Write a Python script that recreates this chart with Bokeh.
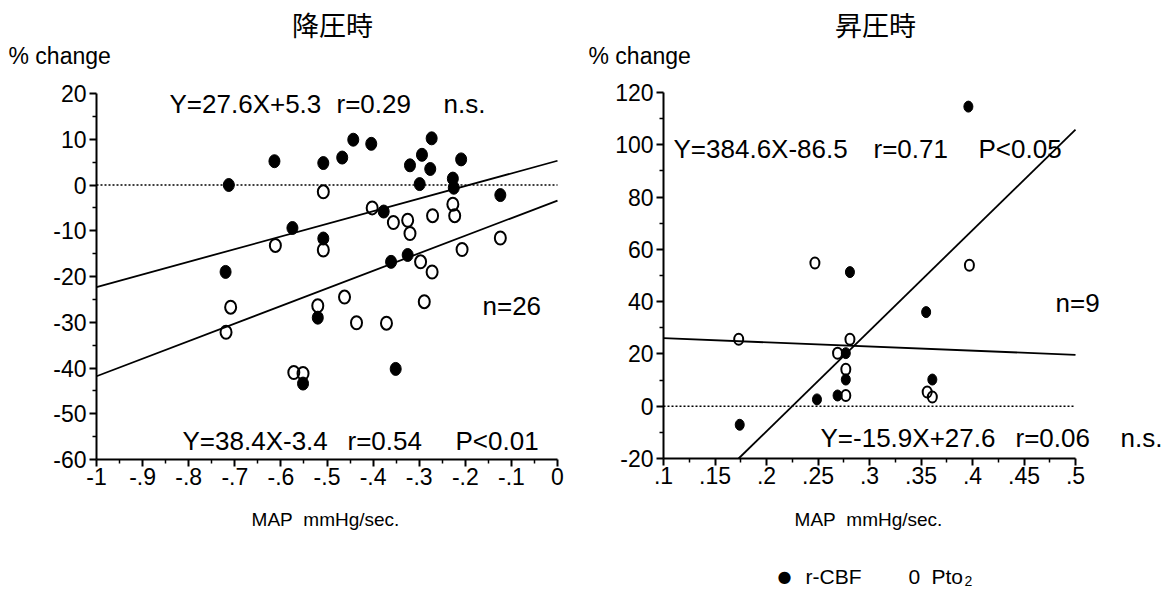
from bokeh.plotting import figure
from bokeh.models import Range1d, FixedTicker, Label, LinearAxis
from bokeh.layouts import row
from bokeh.embed import file_html
from bokeh.resources import INLINE

# ---------------- data: 降圧時 (left) ----------------
dep_cbf_x = [-0.713, -0.614, -0.508, -0.467, -0.443, -0.404, -0.377, -0.575, -0.508, -0.720,
             -0.520, -0.552, -0.361, -0.325, -0.351, -0.320, -0.299, -0.294, -0.273, -0.276,
             -0.227, -0.225, -0.209, -0.124]
dep_cbf_y = [0.0, 5.2, 4.8, 6.0, 9.9, 9.0, -5.8, -9.4, -11.7, -19.0,
             -29.0, -43.4, -16.8, -15.3, -40.2, 4.3, 0.2, 6.6, 10.2, 3.5,
             1.4, -0.6, 5.6, -2.2]
dep_pto_x = [-0.508, -0.612, -0.508, -0.709, -0.719, -0.520, -0.572, -0.552, -0.462, -0.436,
             -0.371, -0.289, -0.402, -0.356, -0.325, -0.320, -0.271, -0.227, -0.223, -0.124,
             -0.207, -0.297, -0.272]
dep_pto_y = [-1.5, -13.2, -14.2, -26.7, -32.2, -26.4, -41.0, -41.2, -24.5, -30.1,
             -30.2, -25.5, -5.0, -8.2, -7.7, -10.6, -6.7, -4.2, -6.7, -11.6,
             -14.1, -16.8, -19.0]
dep_fit_cbf = (27.6, 5.3)
dep_fit_pto = (38.4, -3.4)

# ---------------- data: 昇圧時 (right) ----------------
pre_cbf_x = [0.174, 0.249, 0.269, 0.277, 0.277, 0.281, 0.355, 0.361, 0.396]
pre_cbf_y = [-7.1, 2.6, 4.1, 10.2, 20.3, 51.3, 36.0, 10.2, 114.6]
pre_pto_x = [0.173, 0.247, 0.269, 0.281, 0.277, 0.277, 0.356, 0.361, 0.397]
pre_pto_y = [25.6, 54.8, 20.3, 25.6, 14.1, 4.1, 5.4, 3.5, 53.9]
pre_fit_cbf = (384.6, -86.5)
pre_fit_pto = (-15.9, 27.6)

# ---------------- axes / ticks ----------------
left_x_bounds = (-1, 0)
left_y_bounds = (-60, 20)
left_x_ticks = [-1, -0.9, -0.8, -0.7, -0.6, -0.5, -0.4, -0.3, -0.2, -0.1, 0]
left_x_labels = ["-1", "-.9", "-.8", "-.7", "-.6", "-.5", "-.4", "-.3", "-.2", "-.1", "0"]
left_x_minor = [-0.95, -0.85, -0.75, -0.65, -0.55, -0.45, -0.35, -0.25, -0.15, -0.05]
left_y_ticks = [-60, -50, -40, -30, -20, -10, 0, 10, 20]
left_y_labels = ["-60", "-50", "-40", "-30", "-20", "-10", "0", "10", "20"]
left_y_minor = [-55, -45, -35, -25, -15, -5, 5, 15]

right_x_bounds = (0.1, 0.5)
right_y_bounds = (-20, 120)
right_x_ticks = [0.1, 0.15, 0.2, 0.25, 0.3, 0.35, 0.4, 0.45, 0.5]
right_x_labels = [".1", ".15", ".2", ".25", ".3", ".35", ".4", ".45", ".5"]
right_x_minor = [0.125, 0.175, 0.225, 0.275, 0.325, 0.375, 0.425, 0.475]
right_y_ticks = [-20, 0, 20, 40, 60, 80, 100, 120]
right_y_labels = ["-20", "0", "20", "40", "60", "80", "100", "120"]
right_y_minor = [-10, 10, 30, 50, 70, 90, 110]

FONT = "Liberation Sans"
TXT = 26
HEIGHT = 596
XLABEL = "MAP\u00a0\u00a0mmHg/sec."


class Panel:
    """A figure whose frame is the whole canvas; axes are placed with fixed_location."""

    def __init__(self, x_off, width, xb, xp, yb, yp):
        self.x_off = x_off
        self.xb, self.yb = xb, yb
        self.sx = (xp[1] - xp[0]) / (xb[1] - xb[0])
        self.xp0 = xp[0]
        self.sy = (yp[0] - yp[1]) / (yb[1] - yb[0])
        self.yp0 = yp[0]
        x_start = self.px2x(x_off)
        x_end = self.px2x(x_off + width)
        y_end = self.py2y(0)
        y_start = self.py2y(HEIGHT)
        p = figure(width=width, height=HEIGHT, x_range=Range1d(x_start, x_end),
                   y_range=Range1d(y_start, y_end), output_backend="svg",
                   toolbar_location=None, title=None,
                   x_axis_location=None, y_axis_location=None,
                   min_border=0, min_border_left=0, min_border_right=0,
                   min_border_top=0, min_border_bottom=0)
        p.outline_line_color = None
        p.xgrid.visible = False
        p.ygrid.visible = False
        self.p = p

    def px2x(self, px):
        return self.xb[0] + (px - self.xp0) / self.sx

    def py2y(self, py):
        return self.yb[0] + (self.yp0 - py) / self.sy

    def axes(self, xt, xl, xm, yt, yl, ym):
        xa = LinearAxis(fixed_location=self.yb[0], bounds=self.xb)
        ya = LinearAxis(fixed_location=self.xb[0], bounds=self.yb)
        for ax, t, l, m in ((xa, xt, xl, xm), (ya, yt, yl, ym)):
            ax.ticker = FixedTicker(ticks=t, minor_ticks=m)
            ax.major_label_overrides = {tk: lb for tk, lb in zip(t, l)}
            ax.axis_line_width = 2
            ax.axis_line_color = "black"
            ax.major_tick_line_width = 2
            ax.major_tick_out = 7
            ax.major_tick_in = 0
            ax.minor_tick_line_width = 1.5
            ax.minor_tick_out = 4
            ax.minor_tick_in = 0
            ax.major_label_text_font = FONT
            ax.major_label_text_font_size = "23px"
            ax.major_label_text_color = "black"
        ya.major_label_standoff = 3
        xa.major_label_standoff = 1
        self.p.add_layout(xa, "below")
        self.p.add_layout(ya, "left")

    def text(self, px, py, s, size=TXT, align="left", font=FONT):
        self.p.add_layout(Label(x=self.px2x(px), y=self.py2y(py), text=s, text_font=font,
                                text_font_size=f"{size}px", text_align=align,
                                text_baseline="middle", text_color="black"))

    def zero_line(self):
        self.p.line(list(self.xb), [0, 0], line_color="black", line_width=1.6, line_dash="2 2")

    def fit(self, slope, icpt):
        x0, x1 = self.xb
        y0, y1 = self.yb
        lo, hi = (y0 - icpt) / slope, (y1 - icpt) / slope
        if slope < 0:
            lo, hi = hi, lo
        xs = [max(x0, lo), min(x1, hi)]
        self.p.line(xs, [slope * x + icpt for x in xs], line_color="black", line_width=1.8)

    def points(self, x, y, filled, w, h):
        if filled:
            self.p.ellipse(x, y, width=w, height=h, width_units="screen", height_units="screen",
                           fill_color="black", line_color="black", line_width=1)
        else:
            self.p.ellipse(x, y, width=w, height=h, width_units="screen", height_units="screen",
                           fill_color=None, line_color="black", line_width=2)


# ---------------- left figure (page pixels) ----------------
L = Panel(0, 568, left_x_bounds, (96, 557), left_y_bounds, (459, 93))
L.axes(left_x_ticks, left_x_labels, left_x_minor, left_y_ticks, left_y_labels, left_y_minor)
L.zero_line()
L.fit(*dep_fit_cbf)
L.fit(*dep_fit_pto)
L.points(dep_pto_x, dep_pto_y, False, 11, 13)
L.points(dep_cbf_x, dep_cbf_y, True, 11, 13)
L.text(332, 24, "降圧時", size=27, align="center", font="Noto Sans CJK JP")
L.text(8, 55, "% change", size=23)
L.text(169, 103, "Y=27.6X+5.3")
L.text(336, 103, "r=0.29")
L.text(443, 103, "n.s.")
L.text(482, 305, "n=26")
L.text(182, 440, "Y=38.4X-3.4")
L.text(347, 440, "r=0.54")
L.text(455, 440, "P<0.01")
L.text(325, 519, XLABEL, size=19, align="center")

# ---------------- right figure (page pixels) ----------------
R = Panel(568, 600, right_x_bounds, (663, 1075), right_y_bounds, (458, 92))
R.axes(right_x_ticks, right_x_labels, right_x_minor, right_y_ticks, right_y_labels, right_y_minor)
R.zero_line()
R.fit(*pre_fit_cbf)
R.fit(*pre_fit_pto)
R.points(pre_pto_x, pre_pto_y, False, 9, 11)
R.points(pre_cbf_x, pre_cbf_y, True, 9, 11)
R.text(875, 24, "昇圧時", size=27, align="center", font="Noto Sans CJK JP")
R.text(588, 55, "% change", size=23)
R.text(673, 148, "Y=384.6X-86.5")
R.text(873, 148, "r=0.71")
R.text(978, 148, "P<0.05")
R.text(1055, 302, "n=9")
R.text(820, 437, "Y=-15.9X+27.6")
R.text(1015, 437, "r=0.06")
R.text(1120, 437, "n.s.")
R.text(868, 519, XLABEL, size=19, align="center")
R.text(784, 576, "●", size=16, align="center", font="DejaVu Sans")
R.text(805, 576, "r-CBF", size=21)
R.text(908, 576, "0", size=21)
R.text(931, 576, "Pto", size=21)
R.text(964, 580, "2", size=14)

layout = row(L.p, R.p)
open("out.html", "w").write(file_html(layout, INLINE))
